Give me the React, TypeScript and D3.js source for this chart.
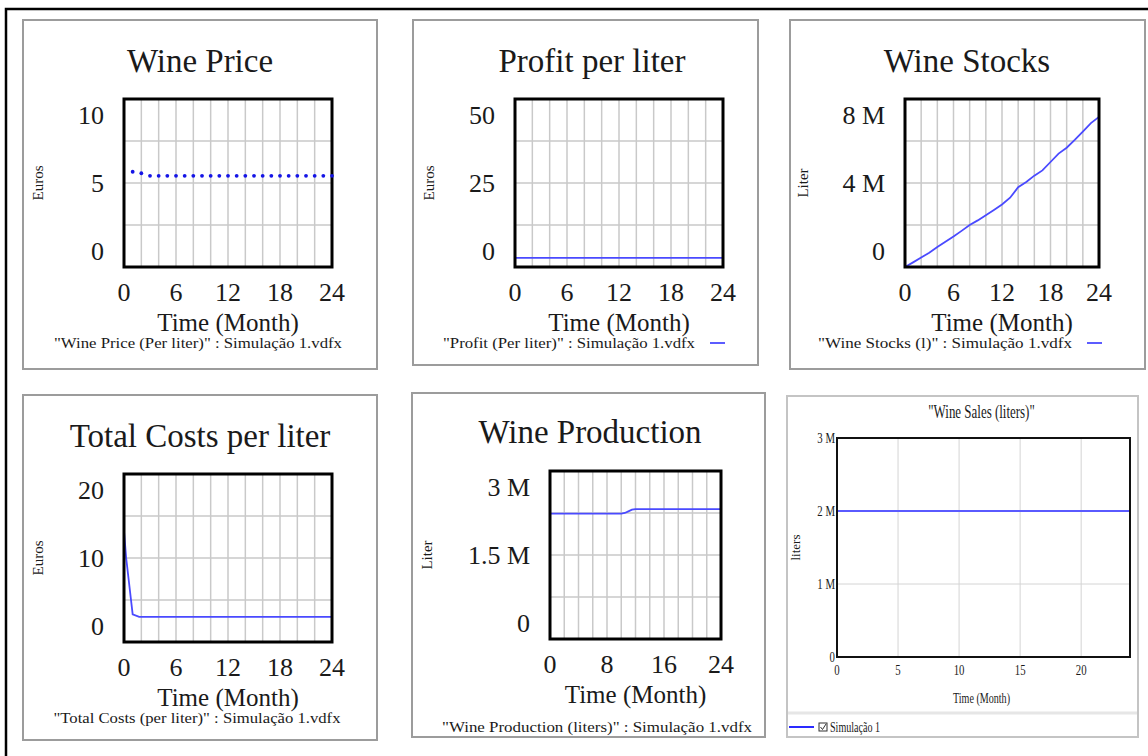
import React from 'react';
import * as d3 from 'd3';

const FONT = "'Liberation Serif','Times New Roman',serif";

// ---------------- data ----------------
const PRICE_MONTHS = [1, 2, 3, 4, 5, 6, 7, 8, 9, 10, 11, 12, 13, 14, 15, 16, 17, 18, 19, 20, 21, 22, 23, 24];
const PRICE_VALUES = [5.67, 5.58, 5.43, 5.43, 5.43, 5.43, 5.43, 5.43, 5.43, 5.43, 5.43, 5.43, 5.43, 5.43, 5.43, 5.43, 5.43, 5.43, 5.43, 5.43, 5.43, 5.43, 5.43, 5.43];

const PROFIT_MONTHS = [0, 6, 12, 18, 24];
const PROFIT_VALUES = [2.7, 2.7, 2.7, 2.7, 2.7];

const STOCK_MONTHS = [0, 1, 2, 3, 4, 5, 6, 7, 8, 9, 10, 11, 12, 13, 14, 15, 16, 17, 18, 19, 20, 21, 22, 23, 24];
const STOCK_VALUES = [0, 220000, 450000, 680000, 950000, 1200000, 1450000, 1720000, 2000000, 2220000, 2470000, 2720000, 2980000, 3300000, 3800000, 4050000, 4350000, 4600000, 5000000, 5400000, 5680000, 6050000, 6450000, 6850000, 7150000];

const COST_MONTHS = [0, 0.25, 1, 1.75, 24];
const COST_VALUES = [13.2, 10.0, 3.3, 3.0, 3.0];

const PRODUCTION_MONTHS = [0, 10, 10.5, 11, 11.5, 12, 24];
const PRODUCTION_VALUES = [2240000, 2240000, 2250000, 2280000, 2310000, 2320000, 2320000];

const SALES_MONTHS = [0, 24];
const SALES_VALUES = [2000000, 2000000];

const TITLES = ['Wine Price', 'Profit per liter', 'Wine Stocks', 'Total Costs per liter', 'Wine Production', '"Wine Sales (liters)"'];
const Y_TITLES = ['Euros', 'Euros', 'Liter', 'Euros', 'Liter', 'liters'];
const X_TITLE = 'Time (Month)';
const FOOTERS = [
  '"Wine Price (Per liter)" : Simulação 1.vdfx',
  '"Profit (Per liter)" : Simulação 1.vdfx',
  '"Wine Stocks (l)" : Simulação 1.vdfx',
  '"Total Costs (per liter)" : Simulação 1.vdfx',
  '"Wine Production (liters)" : Simulação 1.vdfx',
];
const LEGEND_LABEL = 'Simulação 1';

const Y_MAX = [10, 50, 8000000, 20, 3000000, 3000000];
const Y_TICKS = [[0, 5, 10], [0, 25, 50], [0, 4000000, 8000000], [0, 10, 20], [0, 1500000, 3000000], [0, 1000000, 2000000, 3000000]];
const Y_TICK_LABELS = [['0', '5', '10'], ['0', '25', '50'], ['0', '4 M', '8 M'], ['0', '10', '20'], ['0', '1.5 M', '3 M'], ['0', '1 M', '2 M', '3 M']];
const X_TICKS = [[0, 6, 12, 18, 24], [0, 6, 12, 18, 24], [0, 6, 12, 18, 24], [0, 6, 12, 18, 24], [0, 8, 16, 24], [0, 5, 10, 15, 20]];
const X_GRID_STEP = 2;

// ---------------- layout ----------------
const LAYOUT = [
  { frame: [23, 20, 377, 369], plot: [124, 99, 332, 267], title: [200, 72], yTitleX: 38, footer: [198, 343, 288], legend: null, mode: 'dots' },
  { frame: [413, 20, 758, 365], plot: [515, 99, 723, 267], title: [592, 72], yTitleX: 429, footer: [569, 343, 252], legend: [710, 725], mode: 'line' },
  { frame: [790, 20, 1145, 369], plot: [905, 99, 1099, 267], title: [967, 72], yTitleX: 803, footer: [945, 343, 254], legend: [1087, 1102], mode: 'line' },
  { frame: [23, 395, 377, 740], plot: [124, 474, 332, 642], title: [200, 447], yTitleX: 38, footer: [197, 718, 287], legend: null, mode: 'line' },
  { frame: [412, 393, 765, 737], plot: [550, 471, 721, 639], title: [590, 443], yTitleX: 427, footer: [597, 727, 310], legend: null, mode: 'line' },
];

const SERIES = [
  [PRICE_MONTHS, PRICE_VALUES],
  [PROFIT_MONTHS, PROFIT_VALUES],
  [STOCK_MONTHS, STOCK_VALUES],
  [COST_MONTHS, COST_VALUES],
  [PRODUCTION_MONTHS, PRODUCTION_VALUES],
];

const LINE_BLUE = '#4a4aff';
const DOT_BLUE = '#1414e6';
const GRID = '#c9c9c9';
const TEXT = '#1a1a1a';

function VensimPanel({ i }: { i: number }) {
  const L = LAYOUT[i];
  const [fx0, fy0, fx1, fy1] = L.frame;
  const [px0, py0, px1, py1] = L.plot;
  const [months, values] = SERIES[i] as [number[], number[]];
  const x = d3.scaleLinear().domain([0, 24]).range([px0, px1]);
  const y = d3.scaleLinear().domain([0, Y_MAX[i]]).range([py1, py0]);
  const gridX = d3.range(X_GRID_STEP, 24, X_GRID_STEP);
  const gy = [0.25, 0.5, 0.75].map((f) => y.invert(py1 - f * (py1 - py0)));
  const line = d3.line<number>().x((_, k) => x(months[k])).y((d) => y(d));
  const cy = (py0 + py1) / 2;
  const cx = (px0 + px1) / 2;
  return (
    <g>
      <rect x={fx0} y={fy0} width={fx1 - fx0} height={fy1 - fy0} fill="#fff" stroke="#9c9c9c" strokeWidth={2} />
      <text x={L.title[0]} y={L.title[1]} textAnchor="middle" fontSize={33} fill={TEXT} fontFamily={FONT}>{TITLES[i]}</text>
      <rect x={px0} y={py0} width={px1 - px0} height={py1 - py0} fill="#fff" />
      {gridX.map((m) => (
        <line key={'gx' + m} x1={x(m)} x2={x(m)} y1={py0} y2={py1} stroke={GRID} strokeWidth={1.5} />
      ))}
      {gy.map((v, k) => (
        <line key={'gy' + k} x1={px0} x2={px1} y1={y(v)} y2={y(v)} stroke={GRID} strokeWidth={1.5} />
      ))}
      {L.mode === 'line' && (
        <path d={line(values) || ''} fill="none" stroke={LINE_BLUE} strokeWidth={1.8} />
      )}
      <rect x={px0} y={py0} width={px1 - px0} height={py1 - py0} fill="none" stroke="#000" strokeWidth={3} />
      {L.mode === 'dots' &&
        values.map((v, k) => <circle key={'d' + k} cx={x(months[k])} cy={y(v)} r={1.9} fill={DOT_BLUE} />)}
      {Y_TICKS[i].map((v, k) => (
        <text key={'yt' + k} x={px0 - 20} y={Math.max(py0 + 16, Math.min(py1 - 16, y(v)))} textAnchor="end" dominantBaseline="central" fontSize={26} fill={TEXT} fontFamily={FONT}>
          {Y_TICK_LABELS[i][k]}
        </text>
      ))}
      {X_TICKS[i].map((v, k) => (
        <text key={'xt' + k} x={x(v)} y={py1 + 25} textAnchor="middle" dominantBaseline="central" fontSize={26} fill={TEXT} fontFamily={FONT}>
          {String(v)}
        </text>
      ))}
      <text x={cx} y={py1 + 55} textAnchor="middle" dominantBaseline="central" fontSize={25} fill={TEXT} fontFamily={FONT}>{X_TITLE}</text>
      <text transform={`translate(${L.yTitleX},${cy}) rotate(-90)`} textAnchor="middle" dominantBaseline="central" fontSize={15} fill={TEXT} fontFamily={FONT}>{Y_TITLES[i]}</text>
      <text x={L.footer[0]} y={L.footer[1]} textAnchor="middle" dominantBaseline="central" fontSize={15} fill={TEXT} fontFamily={FONT} textLength={L.footer[2]} lengthAdjust="spacingAndGlyphs">{FOOTERS[i]}</text>
      {L.legend && (
        <line x1={L.legend[0]} x2={L.legend[1]} y1={L.footer[1]} y2={L.footer[1]} stroke={LINE_BLUE} strokeWidth={1.8} />
      )}
    </g>
  );
}

function SalesPanel() {
  const frame = [787, 396, 1138, 737];
  const [px0, py0, px1, py1] = [837, 438, 1130, 657];
  const x = d3.scaleLinear().domain([0, 24]).range([px0, px1]);
  const y = d3.scaleLinear().domain([0, Y_MAX[5]]).range([py1, py0]);
  const line = d3.line<number>().x((_, k) => x(SALES_MONTHS[k])).y((d) => y(d));
  const sx = 0.72;
  const T = (props: any) => {
    const { x: tx, y: ty, children, size, anchor } = props;
    return (
      <text transform={`translate(${tx},${ty}) scale(${sx},1)`} textAnchor={anchor || 'middle'} dominantBaseline="central" fontSize={size} fill={TEXT} fontFamily={FONT}>
        {children}
      </text>
    );
  };
  return (
    <g>
      <rect x={frame[0]} y={frame[1]} width={frame[2] - frame[0]} height={frame[3] - frame[1]} fill="#fff" stroke="#c4c4c4" strokeWidth={2} />
      <T x={(px0 + px1) / 2 - 2} y={412} size={18}>{TITLES[5]}</T>
      {X_TICKS[5].filter((v) => v > 0).map((v) => (
        <line key={'gx' + v} x1={x(v)} x2={x(v)} y1={py0} y2={py1} stroke="#d4d4d4" strokeWidth={1} />
      ))}
      {Y_TICKS[5].filter((v) => v > 0 && v < Y_MAX[5]).map((v) => (
        <line key={'gy' + v} x1={px0} x2={px1} y1={y(v)} y2={y(v)} stroke="#d4d4d4" strokeWidth={1} />
      ))}
      <path d={line(SALES_VALUES) || ''} fill="none" stroke="#5a5aff" strokeWidth={2} />
      <rect x={px0} y={py0} width={px1 - px0} height={py1 - py0} fill="none" stroke="#111" strokeWidth={2} />
      {Y_TICKS[5].map((v, k) => (
        <T key={'yt' + k} x={px0 - 2} y={y(v)} size={15} anchor="end">{Y_TICK_LABELS[5][k]}</T>
      ))}
      {X_TICKS[5].map((v) => (
        <T key={'xt' + v} x={x(v)} y={py1 + 13} size={15}>{String(v)}</T>
      ))}
      <T x={(px0 + px1) / 2 - 2} y={698} size={14}>{X_TITLE}</T>
      <text transform={`translate(795,${(py0 + py1) / 2}) rotate(-90)`} textAnchor="middle" dominantBaseline="central" fontSize={13} fill={TEXT} fontFamily={FONT}>{Y_TITLES[5]}</text>
      <line x1={frame[0] + 1} x2={frame[2] - 1} y1={713} y2={713} stroke="#e6e6e6" strokeWidth={3} />
      <line x1={789} x2={814} y1={727} y2={727} stroke="#2a2aff" strokeWidth={2} />
      <rect x={819} y={723} width={8} height={8} fill="#fff" stroke="#333" strokeWidth={1} />
      <path d="M820.5,727 L822.5,729.5 L826,724" fill="none" stroke="#333" strokeWidth={1} />
      <T x={830} y={727} size={14} anchor="start">{LEGEND_LABEL}</T>
    </g>
  );
}

export default function App() {
  return (
    <div style={{ position: 'absolute', left: 0, top: 0, width: 1148, height: 756, background: '#fff' }}>
      <svg width={1148} height={756} style={{ display: 'block' }} fontFamily={FONT}>
        <rect x={0} y={0} width={1148} height={756} fill="#fff" />
        <path d="M6,756 L6,9 L1148,9" fill="none" stroke="#000" strokeWidth={2.5} />
        {LAYOUT.map((_, i) => (
          <VensimPanel key={i} i={i} />
        ))}
        <SalesPanel />
      </svg>
    </div>
  );
}
